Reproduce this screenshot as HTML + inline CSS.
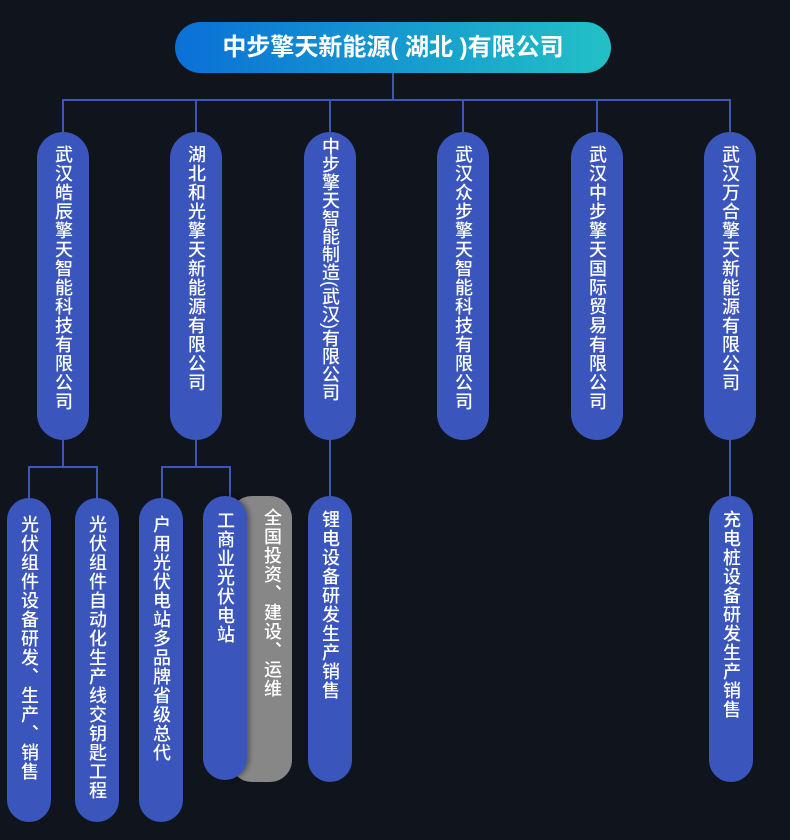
<!DOCTYPE html><html><head><meta charset="utf-8"><style>
body{margin:0;width:790px;height:840px;background:#10141d;overflow:hidden;position:relative;font-family:"Liberation Sans","Noto Sans CJK SC",sans-serif;color:#fff}
.a{position:absolute}
.l{position:absolute;background:#3d56b8}
.p{position:absolute;background:#3a56bd;border-radius:24px;display:flex;justify-content:center}
.t{writing-mode:vertical-rl;font-size:18px;line-height:1;font-weight:500;white-space:nowrap}
</style></head><body>
<div class="a" style="left:175px;top:22px;width:436px;height:51px;border-radius:26px;background:linear-gradient(90deg,#0a70d8,#22c1c6);text-align:center;line-height:51px;font-size:24px;font-weight:bold">中步擎天新能源( 湖北 )有限公司</div>
<div class="l" style="left:392px;top:73px;width:2px;height:28px"></div>
<div class="l" style="left:62px;top:99px;width:669px;height:2px"></div>
<div class="l" style="left:62px;top:100px;width:2px;height:33px"></div>
<div class="l" style="left:195px;top:100px;width:2px;height:33px"></div>
<div class="l" style="left:329px;top:100px;width:2px;height:33px"></div>
<div class="l" style="left:462px;top:100px;width:2px;height:33px"></div>
<div class="l" style="left:596px;top:100px;width:2px;height:33px"></div>
<div class="l" style="left:729px;top:100px;width:2px;height:33px"></div>

<div class="p" style="left:37px;top:132px;width:52px;height:308px;border-radius:26px"><div class="t" style="margin-top:13px;letter-spacing:1px">武汉皓辰擎天智能科技有限公司</div></div>
<div class="p" style="left:170px;top:132px;width:52px;height:308px;border-radius:26px"><div class="t" style="margin-top:13px;letter-spacing:1px">湖北和光擎天新能源有限公司</div></div>
<div class="p" style="left:304px;top:132px;width:52px;height:308px;border-radius:26px"><div class="t" style="margin-top:5px;letter-spacing:0">中步擎天智能制造(武汉)有限公司</div></div>
<div class="p" style="left:437px;top:132px;width:52px;height:308px;border-radius:26px"><div class="t" style="margin-top:13px;letter-spacing:1px">武汉众步擎天智能科技有限公司</div></div>
<div class="p" style="left:571px;top:132px;width:52px;height:308px;border-radius:26px"><div class="t" style="margin-top:13px;letter-spacing:1px">武汉中步擎天国际贸易有限公司</div></div>
<div class="p" style="left:704px;top:132px;width:52px;height:308px;border-radius:26px"><div class="t" style="margin-top:13px;letter-spacing:1px">武汉万合擎天新能源有限公司</div></div>

<div class="l" style="left:62px;top:440px;width:2px;height:28px"></div>
<div class="l" style="left:28px;top:466px;width:70px;height:2px"></div>
<div class="l" style="left:28px;top:466px;width:2px;height:33px"></div>
<div class="l" style="left:96px;top:466px;width:2px;height:33px"></div>
<div class="l" style="left:195px;top:440px;width:2px;height:28px"></div>
<div class="l" style="left:161px;top:466px;width:70px;height:2px"></div>
<div class="l" style="left:161px;top:466px;width:2px;height:33px"></div>
<div class="l" style="left:229px;top:466px;width:2px;height:31px"></div>
<div class="l" style="left:329px;top:440px;width:2px;height:57px"></div>
<div class="l" style="left:729px;top:440px;width:2px;height:57px"></div>

<div class="p" style="left:7px;top:498px;width:44px;height:324px;border-radius:22px"><div class="t" style="margin-top:17px;letter-spacing:1px">光伏组件设备研发、生产、销售</div></div>
<div class="p" style="left:75px;top:498px;width:44px;height:324px;border-radius:22px"><div class="t" style="margin-top:17px;letter-spacing:1px">光伏组件自动化生产线交钥匙工程</div></div>
<div class="p" style="left:139px;top:498px;width:44px;height:324px;border-radius:22px"><div class="t" style="margin-top:17px;letter-spacing:1px">户用光伏电站多品牌省级总代</div></div>
<div class="p" style="left:230px;top:496px;width:62px;height:286px;border-radius:22px;background:#878787;justify-content:flex-end"><div class="t" style="margin-top:12px;margin-right:11px;letter-spacing:1px">全国投资、建设、运维</div></div>
<div class="p" style="left:203px;top:496px;width:44px;height:284px;border-radius:22px;box-shadow:3px 0 4px rgba(0,0,0,.3)"><div class="t" style="margin-top:15px;letter-spacing:1px">工商业光伏电站</div></div>
<div class="p" style="left:308px;top:496px;width:44px;height:286px;border-radius:22px"><div class="t" style="margin-top:14px;letter-spacing:1px">锂电设备研发生产销售</div></div>
<div class="p" style="left:709px;top:496px;width:44px;height:286px;border-radius:22px"><div class="t" style="margin-top:14px;letter-spacing:1px">充电桩设备研发生产销售</div></div>
</body></html>
